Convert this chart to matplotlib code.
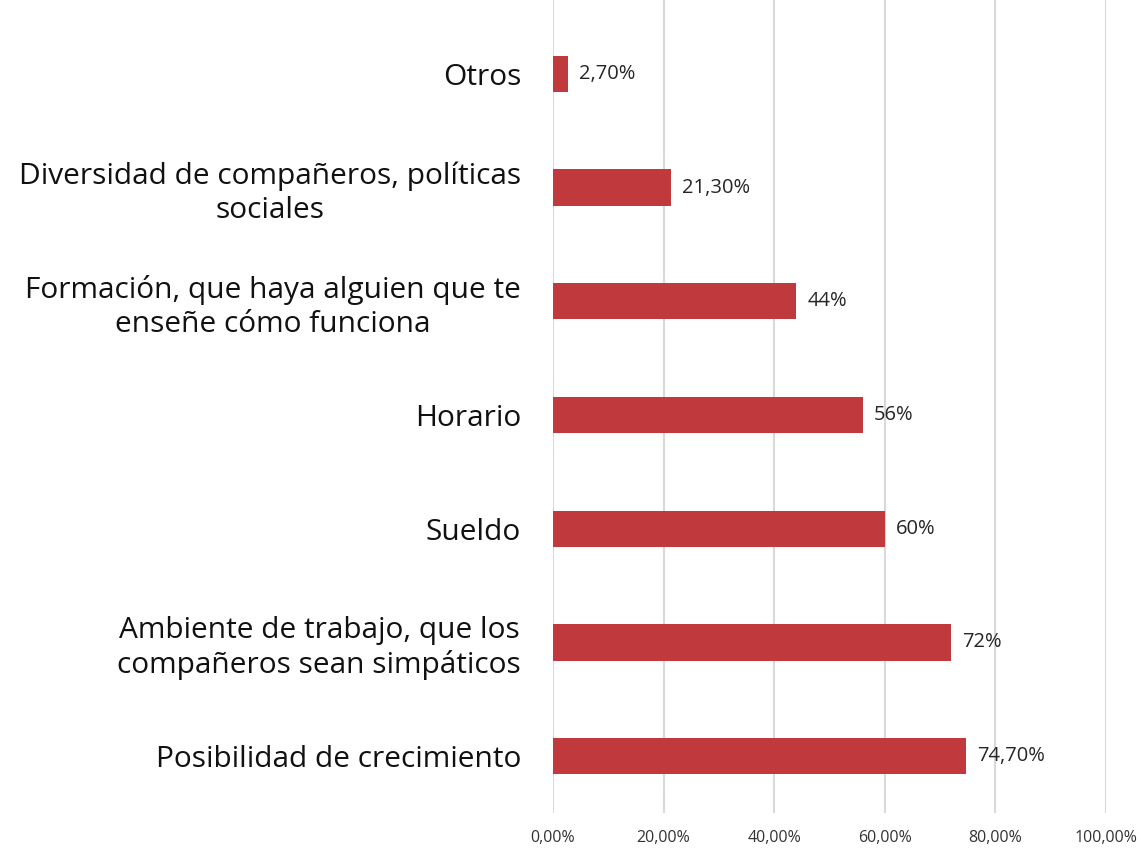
import matplotlib
matplotlib.use("Agg")
import matplotlib.pyplot as plt
from matplotlib.ticker import FuncFormatter

categories = [
    "Posibilidad de crecimiento",
    "Ambiente de trabajo, que los\ncompañeros sean simpáticos",
    "Sueldo",
    "Horario",
    "Formación, que haya alguien que te\nenseñe cómo funciona",
    "Diversidad de compañeros, políticas\nsociales",
    "Otros",
]
values = [74.7, 72.0, 60.0, 56.0, 44.0, 21.3, 2.7]
value_labels = ["74,70%", "72%", "60%", "56%", "44%", "21,30%", "2,70%"]
xticks = [0, 20, 40, 60, 80, 100]

plt.rcParams['font.family'] = ['Open Sans', 'DejaVu Sans']

fig = plt.figure(figsize=(11.41, 8.56), dpi=100)
ax = fig.add_axes([553/1141, 1 - 813/856, (1106 - 553)/1141, 813/856])

y = list(range(len(categories)))
ax.barh(y, values, height=0.32, color="#C0393C", zorder=3)
for yi, v, lab in zip(y, values, value_labels):
    ax.text(v + 2.0, yi, lab, va="center", ha="left", fontsize=14.5, color="#262626")

ax.set_xlim(0, 100)
ax.set_ylim(-0.5, len(categories) - 0.5 + 17/113.7)
ax.set_xticks(xticks)
ax.xaxis.set_major_formatter(FuncFormatter(lambda x, p: f"{x:.2f}%".replace(".", ",")))
ax.set_yticks(y)
ax.set_yticklabels(categories, fontsize=21.5, color="#111111", ha="right",
                   multialignment="center", linespacing=1.2)
ax.tick_params(axis="y", length=0, pad=23)
ax.tick_params(axis="x", length=0, labelsize=11.5, colors="#333333", pad=12)
ax.grid(axis="x", color="#D9D9D9", linewidth=1.5, zorder=0)
for s in ax.spines.values():
    s.set_visible(False)

fig.savefig("out.png", dpi=100)
